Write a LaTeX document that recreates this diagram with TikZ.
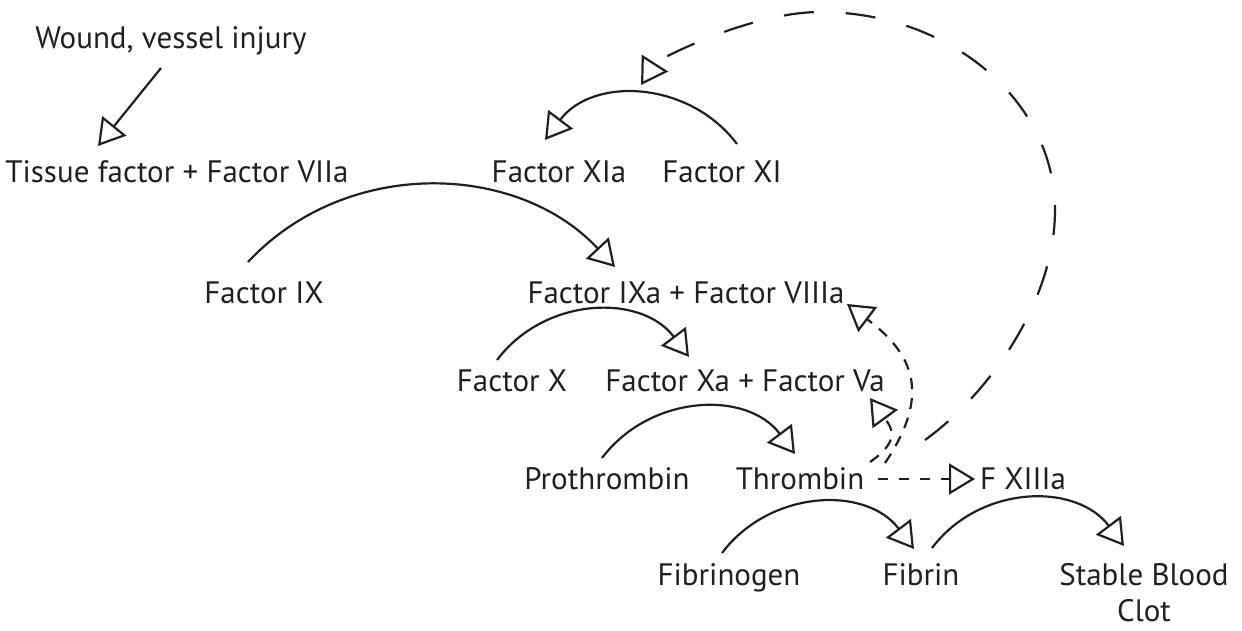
\documentclass[tikz,border=0pt]{standalone}
\usepackage{fontspec}
\setmainfont{PT Sans}
\usetikzlibrary{arrows.meta}
\definecolor{ink}{RGB}{35,31,32}
\begin{document}
\begin{tikzpicture}[x=1pt,y=1pt,
  lbl/.style={anchor=base,inner sep=0pt,text=ink,font=\fontsize{31}{36}\selectfont},
  conn/.style={draw=ink,line width=2.2pt,-{Triangle[open,length=26pt,width=31pt,line width=2.2pt]}},
  sdash/.style={conn,dash pattern=on 11pt off 9pt},
  fdash/.style={conn,dash pattern=on 10pt off 11pt},
  ldash/.style={conn,dash pattern=on 30pt off 32pt}]
\useasboundingbox (0,0) rectangle (1242,-630);
% labels
\node[lbl] (wound) at (171,-48) {Wound, vessel injury};
\node[lbl] (tf)    at (177,-182) {Tissue factor + Factor VIIa};
\node[lbl] (xia)   at (559,-182) {Factor XIa};
\node[lbl] (xi)    at (722,-182) {Factor XI};
\node[lbl] (ix)    at (264,-303) {Factor IX};
\node[lbl] (ixa)   at (686,-303) {Factor IXa + Factor VIIIa};
\node[lbl] (x)     at (512,-391) {Factor X};
\node[lbl] (xa)    at (745,-391) {Factor Xa + Factor Va};
\node[lbl] (pro)   at (607,-489) {Prothrombin};
\node[lbl] (thr)   at (800,-489) {Thrombin};
\node[lbl] (f13)   at (1023,-489) {F XIIIa};
\node[lbl] (fgn)   at (729,-585) {Fibrinogen};
\node[lbl] (fib)   at (921,-585) {Fibrin};
\node[lbl,align=center] (clot) at (1144,-621) {Stable Blood\\Clot};
% connector end points
\coordinate (wound-s) at (161,-68);
\coordinate (tf-e)    at (98,-146);
\coordinate (xi-s)    at (737,-144);
\coordinate (xia-e)   at (545,-140);
\coordinate (ix-s)    at (248,-262);
\coordinate (ixa-e)   at (615,-267);
\coordinate (x-s)     at (497,-360);
\coordinate (xa-e)    at (689,-357);
\coordinate (pro-s)   at (602,-458);
\coordinate (thr-e)   at (795,-454);
\coordinate (fgn-s)   at (722,-553);
\coordinate (fib-e)   at (914,-549);
\coordinate (fib-s)   at (932,-548);
\coordinate (clot-e)  at (1124,-546);
\coordinate (thr-a)   at (885,-463);
\coordinate (viii-e)  at (847,-304);
\coordinate (thr-b)   at (870,-462);
\coordinate (va-e)    at (870,-398);
\coordinate (thr-c)   at (878,-479);
\coordinate (f13-e)   at (975,-479);
\coordinate (thr-d)   at (925,-440);
\coordinate (xi-e)    at (641,-85);
% solid connectors
\draw[conn] (wound-s) -- (tf-e);
\draw[conn] (xi-s) to[out=127,in=53,looseness=1.06] (xia-e);
\draw[conn] (ix-s) to[out=47,in=133,looseness=1.0] (ixa-e);
\draw[conn] (x-s) to[out=53,in=127,looseness=1.06] (xa-e);
\draw[conn] (pro-s) to[out=53,in=127,looseness=1.06] (thr-e);
\draw[conn] (fgn-s) to[out=53,in=127,looseness=1.06] (fib-e);
\draw[conn] (fib-s) to[out=53,in=127,looseness=1.06] (clot-e);
% dashed connectors
\draw[sdash] (thr-a) to[out=56,in=-37,looseness=1.3] (viii-e);
\draw[sdash] (thr-b) to[out=35,in=-54,looseness=1.5] (va-e);
\draw[fdash] (thr-c) -- (f13-e);
\draw[ldash] (thr-d) .. controls (990,-393) and (1055,-300) .. (1055,-210)
  .. controls (1055,-101) and (950,-12) .. (820,-12)
  .. controls (750,-12) and (657,-60) .. (xi-e);
\end{tikzpicture}
\end{document}
